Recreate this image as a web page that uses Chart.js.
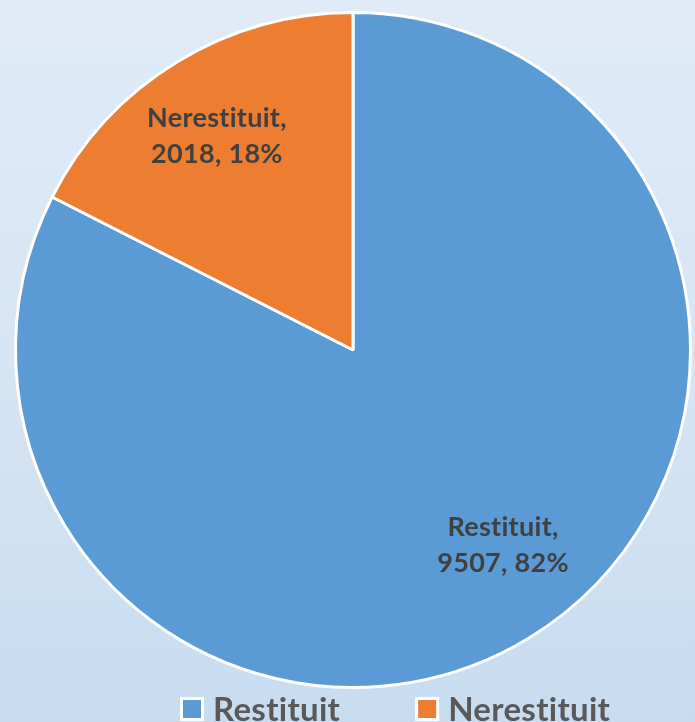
<!DOCTYPE html>
<html>
<head>
<meta charset="utf-8">
<script src="https://cdn.jsdelivr.net/npm/chart.js@4/dist/chart.umd.min.js"></script>
<style>
  html, body { margin: 0; padding: 0; }
  body {
    width: 695px; height: 722px; overflow: hidden;
    background: linear-gradient(to bottom, #e0ebf7 0%, #d6e5f4 50%, #c8dcf0 100%);
  }
  #wrap { position: relative; width: 695px; height: 722px; }
</style>
</head>
<body>
<div id="wrap"><canvas id="pie"></canvas></div>
<script>
const categories = ['Restituit', 'Nerestituit'];
const values = [9507, 2018];
const percents = ['82%', '18%'];
const colors = ['#5b9bd5', '#ed7d31'];

// labels inside slices: "Name," / "value, pct"
const sliceLabels = {
  id: 'sliceLabels',
  afterDatasetsDraw(chart, args, opts) {
    const ctx = chart.ctx;
    const meta = chart.getDatasetMeta(0);
    ctx.save();
    ctx.font = 'bold 27px Lato';
    ctx.letterSpacing = '0.3px';
    ctx.fillStyle = '#404040';
    ctx.textAlign = 'center';
    ctx.textBaseline = 'middle';
    meta.data.forEach(function(arc, i) {
      const p = arc.getProps(['x', 'y', 'startAngle', 'endAngle', 'outerRadius'], true);
      const a = (p.startAngle + p.endAngle) / 2 + opts.angleShift[i] * Math.PI / 180;
      const r = p.outerRadius * opts.radial[i];
      const cx = p.x + Math.cos(a) * r;
      const cy = p.y + Math.sin(a) * r;
      ctx.fillText(categories[i] + ',', cx, cy - 18);
      ctx.fillText(values[i] + ', ' + percents[i], cx, cy + 18);
    });
    ctx.restore();
  }
};

// legend along the bottom edge
const bottomLegend = {
  id: 'bottomLegend',
  afterDraw(chart, args, opts) {
    const ctx = chart.ctx;
    ctx.save();
    ctx.font = 'bold 33px Lato';
    ctx.letterSpacing = '0.3px';
    ctx.textBaseline = 'middle';
    let x = opts.x;
    const y = opts.y;
    categories.forEach(function(name, i) {
      ctx.fillStyle = '#ffffff';
      ctx.fillRect(x, y - 12, 24, 24);
      ctx.fillStyle = colors[i];
      ctx.fillRect(x + 3, y - 9, 18, 18);
      ctx.fillStyle = '#595959';
      ctx.fillText(name, x + 33, y + 1);
      x += 33 + ctx.measureText(name).width + opts.gap;
    });
    ctx.restore();
  }
};

new Chart(document.getElementById('pie'), {
  type: 'pie',
  data: {
    labels: categories,
    datasets: [{
      data: values,
      backgroundColor: colors,
      borderColor: '#ffffff',
      borderWidth: 3
    }]
  },
  options: {
    responsive: true,
    maintainAspectRatio: false,
    animation: false,
    layout: { padding: { top: 11, left: 14, right: 3, bottom: 33 } },
    plugins: {
      legend: { display: false },
      tooltip: { enabled: false },
      sliceLabels: { radial: [0.73, 0.75], angleShift: [-6, -1] },
      bottomLegend: { x: 180, y: 709, gap: 75 }
    }
  },
  plugins: [sliceLabels, bottomLegend]
});
</script>
</body>
</html>
